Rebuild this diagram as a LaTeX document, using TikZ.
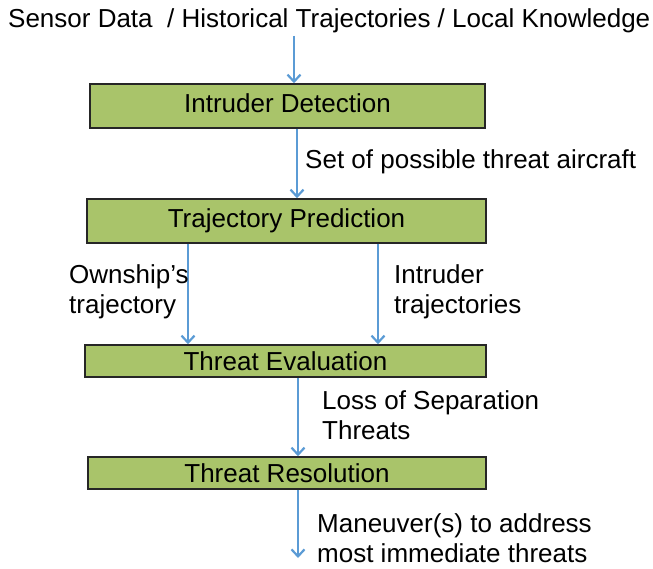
\documentclass[tikz,border=0pt]{standalone}
\usepackage{fontspec}
\setmainfont{Liberation Sans}
\usetikzlibrary{arrows.meta}
\definecolor{boxgreen}{RGB}{169,196,106}
\definecolor{arrblue}{RGB}{91,155,213}
\begin{document}
\begin{tikzpicture}[x=1pt,y=-1pt,
  every node/.style={font=\fontsize{26}{30}\selectfont, inner sep=0pt},
  stagebox/.style={draw=black!85, line width=1.5pt, fill=boxgreen, text height=18.5pt, text depth=5pt},
  thinbox/.style={stagebox, text depth=0pt, minimum height=32pt},
  arr/.style={draw=arrblue, line width=2.2pt, -{Straight Barb[length=7pt,width=13pt,line width=2.2pt]}},
  lbl/.style={align=left, anchor=base west}]
\useasboundingbox (0,0) rectangle (653,569);
\node[anchor=base west] (src) at (8,28) {Sensor Data\ \ / Historical Trajectories / Local Knowledge};
\node[stagebox, minimum width=395pt, minimum height=44pt] (det) at (287.5,106) {Intruder Detection};
\node[stagebox, minimum width=399pt, minimum height=44pt] (pred) at (286.5,221) {Trajectory Prediction};
\node[thinbox, minimum width=401pt] (eval) at (285.5,361) {Threat Evaluation};
\node[thinbox, minimum width=398pt] (res) at (287,473) {Threat Resolution};
\coordinate (a1) at (294,36);
\coordinate (a2) at (297,0);
\coordinate (a3) at (188,0);
\coordinate (a4) at (378,0);
\coordinate (a5) at (298,0);
\coordinate (out) at (298,558);
\draw[arr] (a1) -- (a1 |- det.north);
\draw[arr] (a2 |- det.south) -- (a2 |- pred.north);
\draw[arr] (a3 |- pred.south) -- (a3 |- eval.north);
\draw[arr] (a4 |- pred.south) -- (a4 |- eval.north);
\draw[arr] (a5 |- eval.south) -- (a5 |- res.north);
\draw[arr] (out |- res.south) -- (out);
\node[anchor=base west] (l1) at (305,169) {Set of possible threat aircraft};
\node[lbl] (l2) at (69,313) {Ownship’s\\trajectory};
\node[lbl] (l3) at (394,313) {Intruder\\trajectories};
\node[lbl] (l4) at (322,439) {Loss of Separation\\Threats};
\node[lbl] (l5) at (317,562) {Maneuver(s) to address\\most immediate threats};
\end{tikzpicture}
\end{document}
